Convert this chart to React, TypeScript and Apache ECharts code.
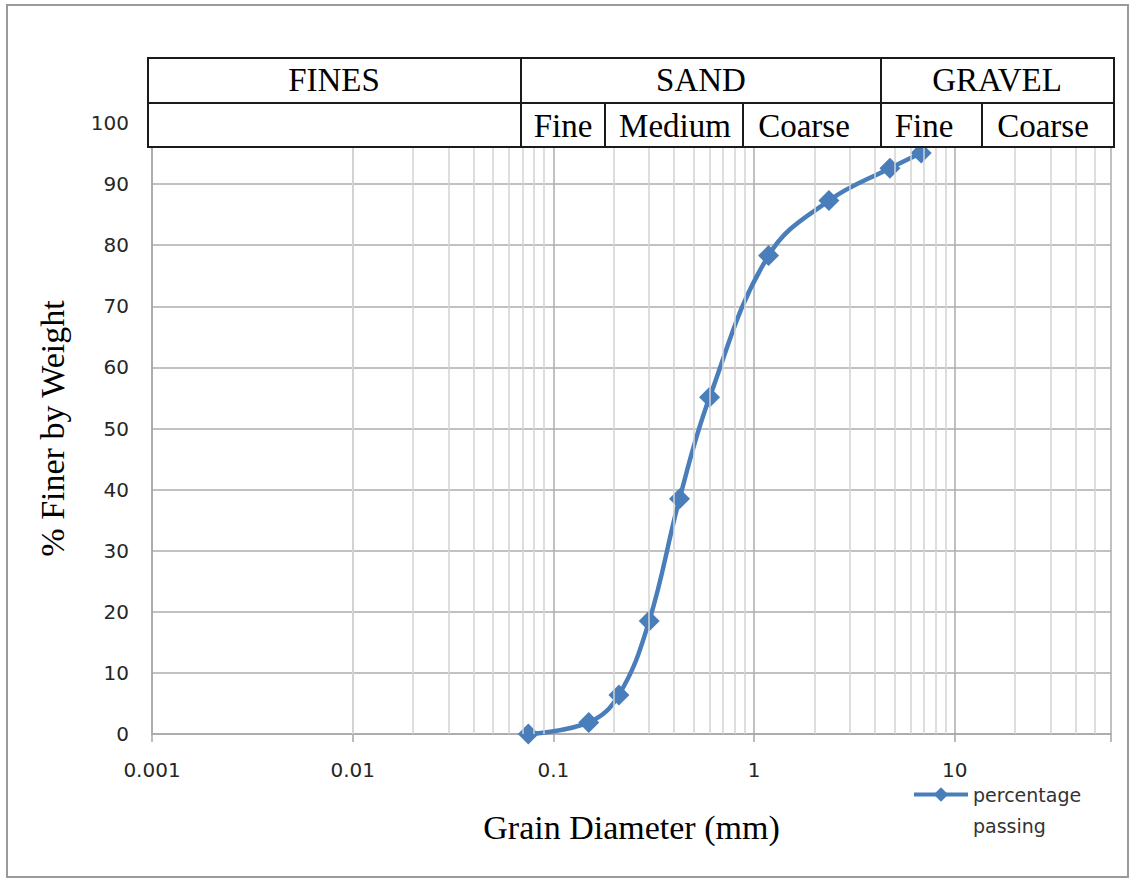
import React, { useEffect, useRef } from "react";
import * as echarts from "echarts";

// ---- data ----
const grainSize = [0.075, 0.15, 0.212, 0.3, 0.425, 0.6, 1.18, 2.36, 4.75, 6.8];
const percentPassing = [0, 1.9, 6.4, 18.5, 38.5, 55.1, 78.3, 87.3, 92.6, 95.1];
const seriesName = "percentage passing";
const xTickLabels = ["0.001", "0.01", "0.1", "1", "10"];
const minorGridValues = [
  0.002, 0.003, 0.004, 0.005, 0.006, 0.007, 0.008, 0.009,
  0.02, 0.03, 0.04, 0.05, 0.06, 0.07, 0.08, 0.09,
  0.2, 0.3, 0.4, 0.5, 0.6, 0.7, 0.8, 0.9,
  2, 3, 4, 5, 6, 7, 8, 9,
  20, 30, 40, 50,
];
const headerTop = ["FINES", "SAND", "GRAVEL"];
const headerBottom = ["Fine", "Medium", "Coarse", "Fine", "Coarse"];

// ---- header table layout (pixels) ----
const tLeft = 148, tRight = 1114, tTop = 58, tMid = 103, tBottom = 147;
const topDividers = [521, 881];
const bottomDividers = [605, 743, 982];
const topTextX = [334, 701, 997];
const bottomTextX = [563, 675, 804, 924, 1043];

const serifFont = '"Liberation Serif", "Times New Roman", serif';
const sansFont = '"DejaVu Sans", sans-serif';

export default function App() {
  const ref = useRef<HTMLDivElement>(null);

  useEffect(() => {
    const chart = echarts.init(ref.current!, null, { renderer: "svg" });

    const lineEl = (x1: number, y1: number, x2: number, y2: number) => ({
      type: "line",
      shape: { x1, y1, x2, y2 },
      style: { stroke: "#1a1a1a", lineWidth: 2 },
      z: 101,
    });
    const textEl = (text: string, x: number, y: number) => ({
      type: "text",
      x,
      y,
      style: {
        text,
        font: `33px ${serifFont}`,
        fill: "#000",
        align: "center",
        verticalAlign: "middle",
      },
      z: 102,
    });

    const graphics: any[] = [
      {
        type: "rect",
        shape: { x: 7, y: 5, width: 1121, height: 872 },
        style: { fill: "none", stroke: "#9a9a9a", lineWidth: 2 },
        z: 0,
        silent: true,
      },
      {
        type: "rect",
        shape: { x: tLeft, y: tTop, width: tRight - tLeft, height: tBottom - tTop },
        style: { fill: "#fff", stroke: "#1a1a1a", lineWidth: 2 },
        z: 100,
      },
      lineEl(tLeft, tMid, tRight, tMid),
      ...topDividers.map((x) => lineEl(x, tTop, x, tBottom)),
      ...bottomDividers.map((x) => lineEl(x, tMid, x, tBottom)),
      ...headerTop.map((t, i) => textEl(t, topTextX[i], 80)),
      ...headerBottom.map((t, i) => textEl(t, bottomTextX[i], 126)),
    ];

    chart.setOption({
      animation: false,
      backgroundColor: "#fff",
      grid: { left: 152, right: 19, top: 123, bottom: 145, containLabel: false },
      legend: {
        data: [seriesName],
        left: 907,
        top: 743,
        itemWidth: 54,
        itemHeight: 18,
        lineStyle: { width: 4 },
        formatter: () => " \npercentage\npassing",
        textStyle: {
          fontFamily: sansFont,
          fontSize: 19,
          color: "#333",
          lineHeight: 31,
        },
      },
      xAxis: {
        type: "log",
        logBase: 10,
        min: 0.001,
        max: 60,
        axisLine: { show: true, lineStyle: { color: "#a6a6a6", width: 1.5 } },
        axisTick: { show: true, length: 8, lineStyle: { color: "#a6a6a6", width: 1.5 } },
        axisLabel: {
          margin: 26,
          fontFamily: sansFont,
          fontSize: 20,
          color: "#262626",
          formatter: (v: number) => {
            const lg = Math.log10(v);
            if (Math.abs(lg - Math.round(lg)) < 1e-6) {
              return xTickLabels[Math.round(lg) + 3] ?? "";
            }
            return "";
          },
        },
        splitLine: { show: true, lineStyle: { color: "#adadad", width: 1.5 } },
        name: "Grain Diameter (mm)",
        nameLocation: "middle",
        nameGap: 76,
        nameTextStyle: { fontFamily: serifFont, fontSize: 34, color: "#000" },
      },
      yAxis: {
        type: "value",
        min: 0,
        max: 100,
        interval: 10,
        axisLine: { show: true, lineStyle: { color: "#a6a6a6", width: 1.5 } },
        axisTick: { show: false },
        axisLabel: {
          margin: 23,
          fontFamily: sansFont,
          fontSize: 20,
          color: "#262626",
        },
        splitLine: { show: true, lineStyle: { color: "#adadad", width: 1.5 } },
        name: "% Finer by Weight",
        nameLocation: "middle",
        nameGap: 83,
        nameTextStyle: { fontFamily: serifFont, fontSize: 34, color: "#000" },
      },
      series: [
        {
          name: "minor-grid",
          type: "line",
          data: [],
          z: 1,
          silent: true,
          markLine: {
            silent: true,
            animation: false,
            symbol: ["none", "none"],
            label: { show: false },
            lineStyle: { color: "#d3d3d3", width: 1.5, type: "solid" },
            emphasis: { disabled: true },
            data: minorGridValues.map((v) => ({ xAxis: v })),
          },
        },
        {
          name: seriesName,
          type: "line",
          data: grainSize.map((x, i) => [x, percentPassing[i]]),
          smooth: 0.4,
          symbol: "diamond",
          symbolSize: 21,
          lineStyle: { color: "#4A7EBB", width: 4.5 },
          itemStyle: { color: "#4A7EBB" },
          z: 3,
        },
      ],
      graphic: graphics,
    });

    return () => chart.dispose();
  }, []);

  return (
    <div
      ref={ref}
      style={{ position: "absolute", left: 0, top: 0, width: 1130, height: 879, background: "#fff" }}
    />
  );
}
